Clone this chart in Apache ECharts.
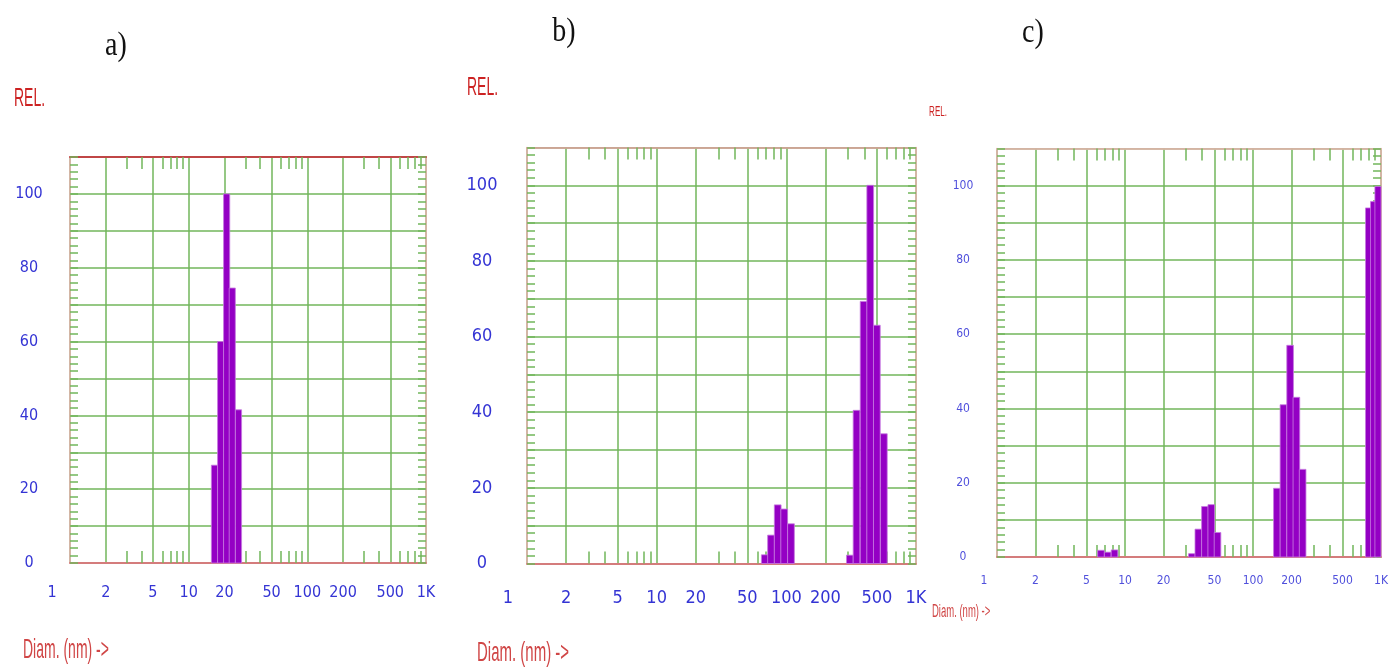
<!DOCTYPE html>
<html><head><meta charset="utf-8">
<script src="https://cdn.jsdelivr.net/npm/echarts@6/dist/echarts.min.js"></script>
<style>html,body{margin:0;padding:0;background:#fff}#c{width:1391px;height:667px}</style>
</head><body><div id="c"></div>
<script>
// ---- data ----
const xTickValues = [1, 2, 5, 10, 20, 50, 100, 200, 500, 1000];
const xMinorValues = [3, 4, 6, 7, 8, 9, 30, 40, 60, 70, 80, 90, 300, 400, 600, 700, 800, 900];
const yLabelValues = [0, 20, 40, 60, 80, 100];
const panelTitles = ['a)', 'b)', 'c)'];
const yName = 'REL.';
const xName = 'Diam. (nm) ->';

const diamA = [16.5, 18.6, 20.9, 23.3, 26.3];
const relA  = [26.5, 60, 100, 74.5, 41.5];

const diamB = [68.2, 76.2, 85.8, 96.3, 108.6, 309, 348, 394.5, 443.6, 498.9, 564.9];
const relB  = [2.3, 7.5, 15.5, 14.4, 10.5, 2.2, 40.5, 69.3, 100, 63, 34.3];

const diamC = [6.49, 7.33, 8.28, 33.3, 37.4, 42.1, 47.2, 52.8, 153.6, 172.9, 194.9, 218.2, 244.1, 803, 879, 951];
const relC  = [1.8, 1.3, 1.9, 0.9, 7.5, 13.6, 14.1, 6.6, 18.5, 41, 57, 43, 23.6, 94, 95.7, 99.8];

const binDecades = 0.052; // histogram bin width (log10 units)

// ---- layout / style ----
const panels = [
  {diam: diamA, relData: relA, grid: {left: 70, top: 157, width: 356, height: 406},
   fs: 16, yMargin: 41, xMargin: 22, oneShift: 36, labelColor: '#3434d4',
   topColor: '#c04646', topWidth: 2,
   title: [116, 46], rel: [29.5, 99, 14, 1.8], xn: [23, 650, 14, 2.0]},
  {diam: diamB, relData: relB, grid: {left: 527, top: 147.5, width: 389, height: 416},
   fs: 18, yMargin: 45, xMargin: 26, oneShift: 38, labelColor: '#3434d4',
   topColor: '#e0a0a0', topWidth: 1.5,
   title: [564, 32], rel: [482.5, 88, 14, 1.8], xn: [477, 653, 15, 1.9]},
  {diam: diamC, relData: relC, grid: {left: 997, top: 148.5, width: 388, height: 408.5},
   fs: 12, yMargin: 34, xMargin: 18, oneShift: 26, labelColor: '#5050dc',
   topColor: '#eab4b4', topWidth: 1.5,
   title: [1033, 33], rel: [938, 112, 8, 1.9], xn: [932, 612, 9.5, 1.9]}
];

const green = '#72b65b';
const pinkSide = '#e8b4b4';
const fontNarrow = "'Liberation Sans Narrow','DejaVu Sans Condensed','Liberation Sans',sans-serif";

function renderBin(params, api) {
  const d = api.value(0), v = api.value(1);
  const half = Math.pow(10, binDecades / 2);
  const tl = api.coord([d / half, v]);
  const br = api.coord([d * half, 0]);
  const cs = params.coordSys;
  const r = echarts.graphic.clipRectByRect(
    {x: tl[0], y: tl[1], width: br[0] - tl[0], height: br[1] - tl[1]},
    {x: cs.x, y: cs.y, width: cs.width, height: cs.height});
  if (!r) return null;
  return {type: 'rect', shape: r, style: {fill: '#9400c4', stroke: '#c77ae0', lineWidth: 0.8}};
}

const grid = [], xAxis = [], yAxis = [], series = [], graphic = [];
panels.forEach((p, i) => {
  grid.push(Object.assign({show: true, borderColor: pinkSide, borderWidth: 1.2, backgroundColor: '#fff'}, p.grid));
  const lblStyle = {color: p.labelColor, fontSize: p.fs, fontFamily: fontNarrow};
  xAxis.push({
    type: 'log', logBase: 10, gridIndex: i, min: 1, max: 1000, position: 'bottom',
    axisLine: {show: true, lineStyle: {color: '#d47c7c', width: 2}},
    axisTick: {show: false, customValues: xTickValues},
    axisLabel: Object.assign({
      customValues: xTickValues, margin: p.xMargin,
      formatter: v => v === 1 ? '{one|1}' : (v >= 1000 ? '1K' : String(v)),
      rich: {one: Object.assign({padding: [0, p.oneShift, 0, 0]}, lblStyle)}
    }, lblStyle),
    splitLine: {show: true, lineStyle: {color: green, width: 1.5}}
  });
  xAxis.push({
    type: 'log', logBase: 10, gridIndex: i, min: 1, max: 1000, position: 'bottom',
    axisLine: {show: false},
    axisTick: {show: true, inside: true, length: 12, customValues: xMinorValues, lineStyle: {color: green, width: 1.5}},
    axisLabel: {show: false}, splitLine: {show: false}
  });
  xAxis.push({
    type: 'log', logBase: 10, gridIndex: i, min: 1, max: 1000, position: 'top',
    axisLine: {show: true, lineStyle: {color: p.topColor, width: p.topWidth}},
    axisTick: {show: true, inside: true, length: 12, customValues: xMinorValues, lineStyle: {color: green, width: 1.5}},
    axisLabel: {show: false}, splitLine: {show: false}
  });
  const yBase = {
    type: 'value', gridIndex: i, min: 0, max: 110, interval: 10,
    axisLine: {show: true, lineStyle: {color: pinkSide, width: 1.5}},
    axisTick: {show: true, inside: true, length: 8, lineStyle: {color: green, width: 1.5}},
    minorTick: {show: true, splitNumber: 5, length: 8, lineStyle: {color: green, width: 1.5}}
  };
  yAxis.push(Object.assign({}, yBase, {
    position: 'left',
    axisLabel: Object.assign({
      margin: p.yMargin, align: 'center',
      formatter: v => yLabelValues.indexOf(v) >= 0 ? String(v) : ''
    }, lblStyle),
    splitLine: {show: true, lineStyle: {color: green, width: 1.5}}
  }));
  yAxis.push(Object.assign({}, yBase, {
    position: 'right', axisLabel: {show: false}, splitLine: {show: false}
  }));
  series.push({
    type: 'custom', xAxisIndex: i * 3, yAxisIndex: i * 2,
    encode: {x: 0, y: 1}, z: 5,
    data: p.diam.map((d, k) => [d, p.relData[k]]),
    renderItem: renderBin
  });
  graphic.push({type: 'text', x: p.title[0], y: p.title[1], scaleY: 1.2,
    style: {text: panelTitles[i], fill: '#111', fontSize: 28, fontFamily: "'Liberation Serif',serif", align: 'center', verticalAlign: 'middle'}});
  graphic.push({type: 'text', x: p.rel[0], y: p.rel[1], scaleY: p.rel[3],
    style: {text: yName, fill: '#cc2222', fontSize: p.rel[2], fontFamily: "'Liberation Sans',sans-serif", align: 'center', verticalAlign: 'middle'}});
  graphic.push({type: 'text', x: p.xn[0], y: p.xn[1], scaleY: p.xn[3],
    style: {text: xName, fill: '#d04646', fontSize: p.xn[2], fontFamily: "'Liberation Sans',sans-serif", align: 'left', verticalAlign: 'middle'}});
});

const chart = echarts.init(document.getElementById('c'));
chart.setOption({animation: false, backgroundColor: '#fff', grid, xAxis, yAxis, series, graphic});
</script></body></html>
